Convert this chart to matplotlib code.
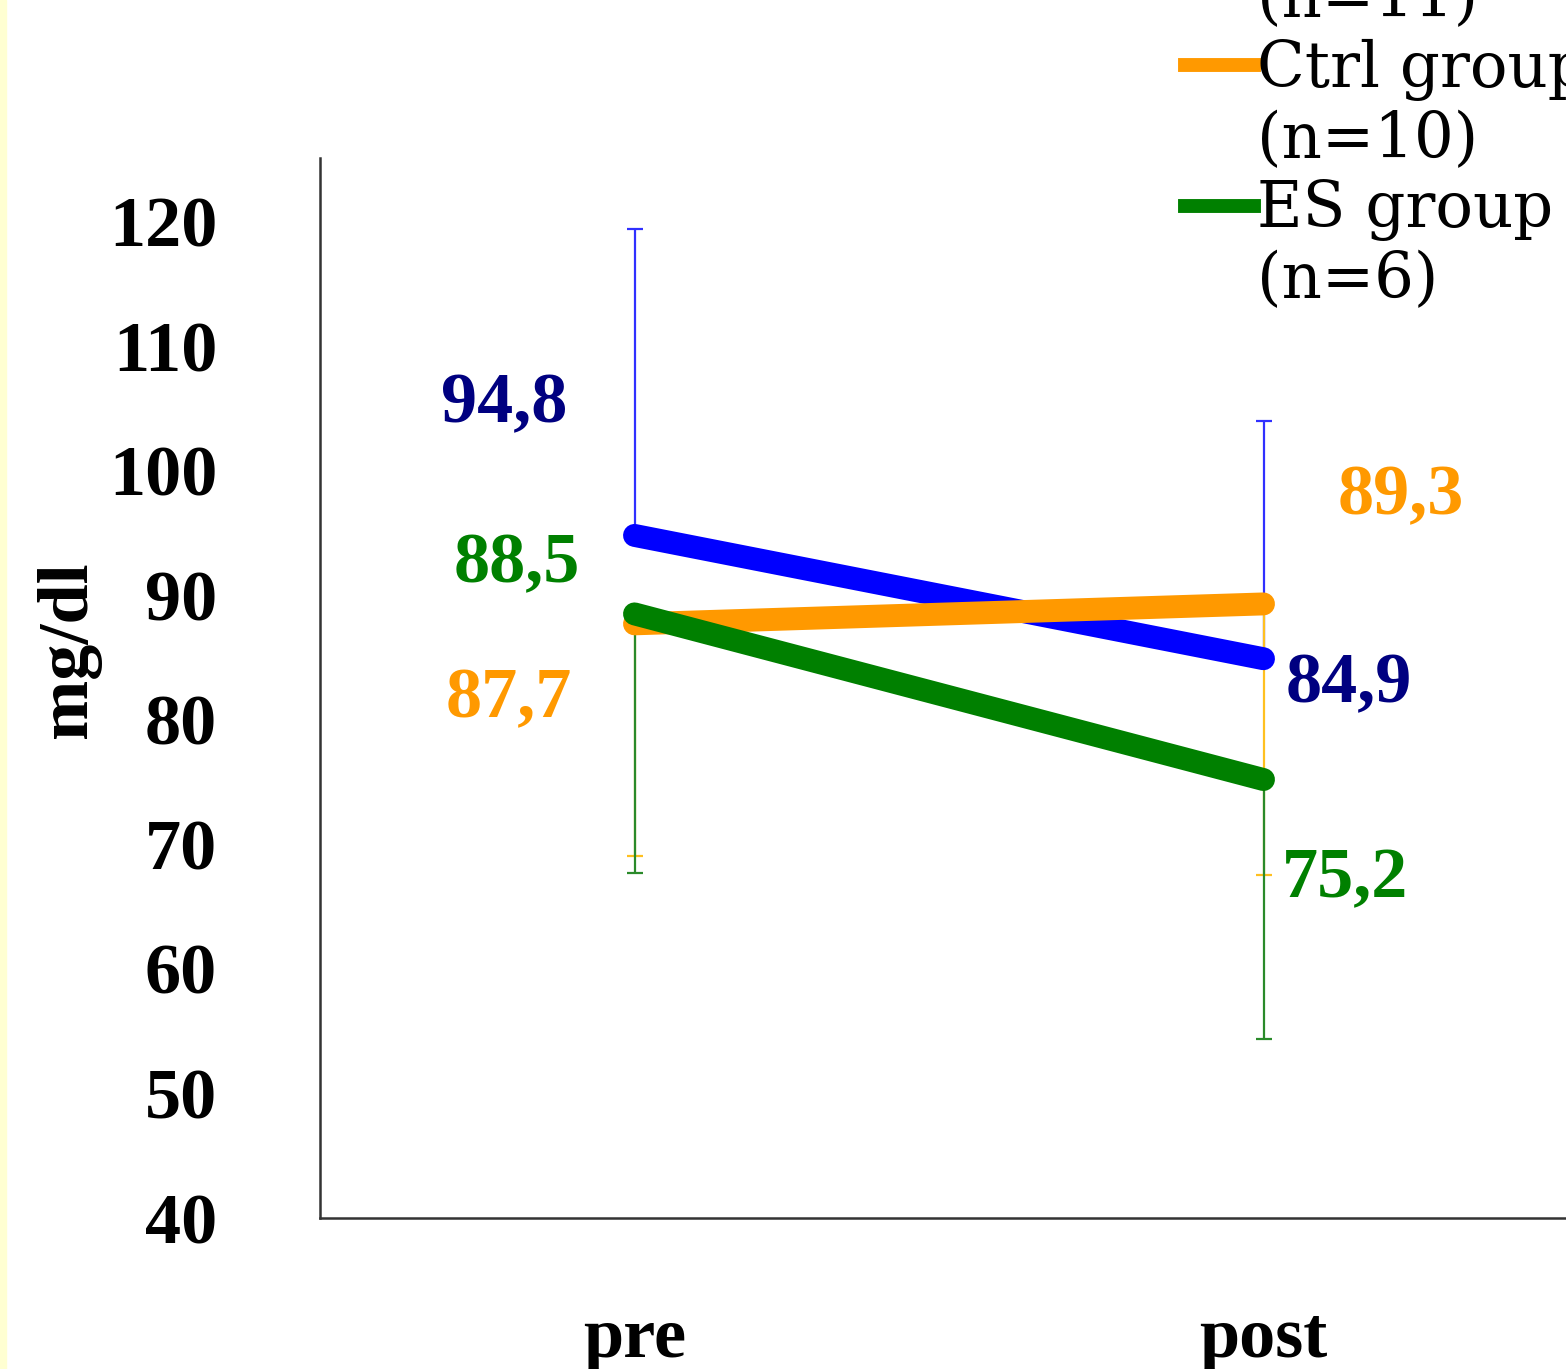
import numpy as np
import matplotlib.pyplot as plt
from matplotlib.lines import Line2D
from matplotlib.patches import Rectangle

# group means and SD
groups = ['Exp group', 'Ctrl group', 'ES group']
n_sizes = [11, 10, 6]
pre = [94.8, 87.7, 88.5]
post = [84.9, 89.3, 75.2]
sd_pre = [24.6, 18.6, 20.8]
sd_post = [19.1, 21.8, 20.8]
err_up = [True, False, False]  # blue bars go up, the others down
timepoints = ['pre', 'post']

line_cols = ['#0000FF', '#FF9900', '#008000']
bar_cols = ['#3030FF', '#FFC020', '#2A8A2A']
txt_cols = ['#000080', '#FF9900', '#008000']
# label offsets in pixels (pre, post)
offs = [[(-130, 131), (85, -26)],
        [(-126, -76), (137, 107)],
        [(-118, 49), (82, -100)]]

W, H = 1566, 1369
fig = plt.figure(figsize=(W / 100, H / 100), dpi=100)
fig.patches.append(Rectangle((0, 0), 6 / W, 1, transform=fig.transFigure,
                             color='#FFFFD2', zorder=0))

ax = fig.add_axes([320 / W, 1 - 1218 / H, 1258 / W, 1060 / H])
x = np.arange(len(timepoints))

for i in range(len(groups)):
    ys = [pre[i], post[i]]
    sds = [sd_pre[i], sd_post[i]]
    if err_up[i]:
        yerr = [[0, 0], sds]
    else:
        yerr = [sds, [0, 0]]
    ax.errorbar(x, ys, yerr=yerr, fmt='none', ecolor=bar_cols[i],
                elinewidth=1.6, capsize=6, capthick=1.6, zorder=1)

for i in range(len(groups)):
    ys = [pre[i], post[i]]
    ax.plot(x, ys, color=line_cols[i], lw=16.5, solid_capstyle='round', zorder=2 + i)
    for j in range(2):
        ax.annotate(f"{ys[j]:.1f}".replace('.', ','), xy=(x[j], ys[j]),
                    xytext=offs[i][j], textcoords='offset pixels',
                    ha='center', va='center', fontsize=52, fontweight='bold',
                    family='Liberation Serif', color=txt_cols[i])

ax.set_xlim(-0.5, 1.5)
ax.set_ylim(40, 125.1)
ax.set_yticks(np.arange(40, 121, 10))
ax.set_xticks(x)
ax.set_xticklabels(timepoints)
for lab in ax.get_xticklabels() + ax.get_yticklabels():
    lab.set_family('Liberation Serif')
    lab.set_fontweight('bold')
    lab.set_fontsize(52)
ax.tick_params(axis='y', length=0, pad=74)
ax.tick_params(axis='x', length=0, pad=64)
ax.set_ylabel('mg/dl', family='Liberation Serif', fontweight='bold', fontsize=52)
ax.yaxis.set_label_coords((101 - 320) / 1258, (1218 - 650) / 1060)

for s in ['top', 'right']:
    ax.spines[s].set_visible(False)
for s in ['left', 'bottom']:
    ax.spines[s].set_color('#333333')
    ax.spines[s].set_linewidth(1.8)

# legend: name row with a line, then an "(n=..)" row with no handle
handles, labels = [], []
for i in range(len(groups)):
    handles.append(Line2D([], [], color=line_cols[i], lw=10))
    labels.append(groups[i])
    handles.append(Line2D([], [], color='none'))
    labels.append(f"(n={n_sizes[i]})")
fig.legend(handles, labels, loc='upper left',
           bbox_to_anchor=(1185 / W, 1 + 102 / H), bbox_transform=fig.transFigure,
           frameon=False, borderpad=0, borderaxespad=0, handlelength=1.1,
           handletextpad=0.05, labelspacing=0.14,
           prop={'family': 'DejaVu Serif', 'size': 45})

fig.savefig('out.png', dpi=100)
